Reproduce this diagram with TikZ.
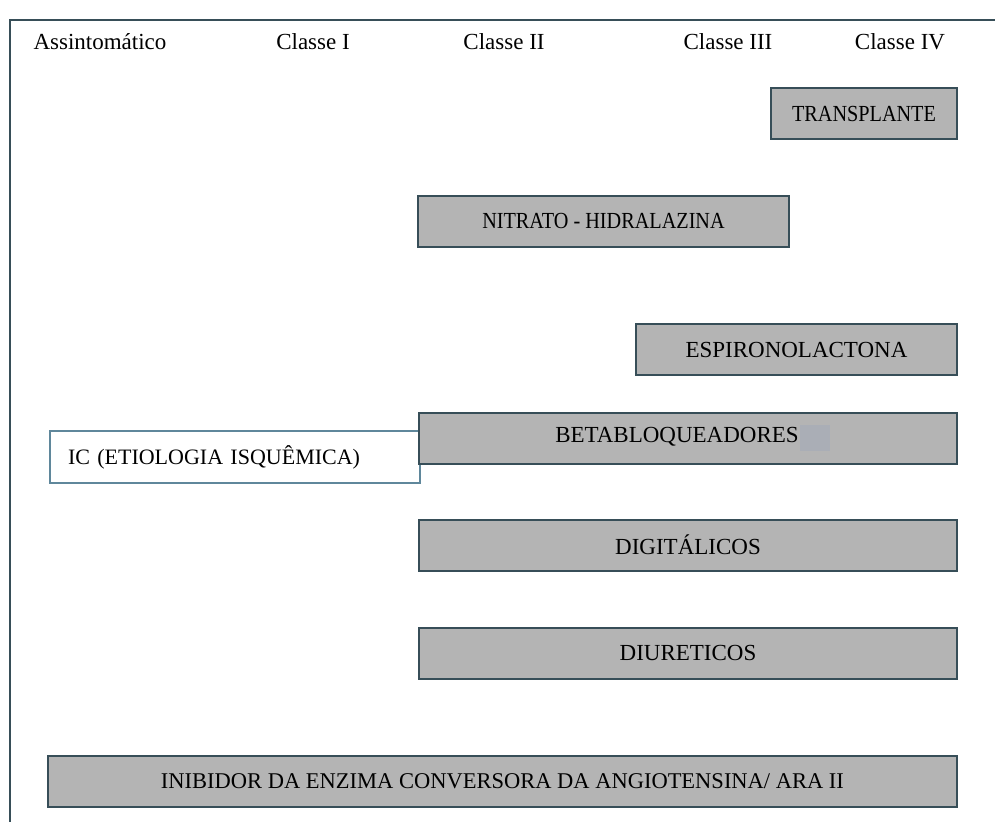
\documentclass[tikz,border=0pt]{standalone}
\usepackage{fontspec}
\setmainfont{Liberation Serif}
\usepackage{tikz}
\usetikzlibrary{positioning}
\definecolor{framegray}{RGB}{55,78,88}
\definecolor{boxfill}{RGB}{180,180,180}
\definecolor{patchfill}{RGB}{170,174,182}
\definecolor{icline}{RGB}{95,135,155}
\newcommand{\squeezed}[1]{\scalebox{0.88}[1]{#1}}
\tikzset{
    drugbox/.style={draw=framegray, fill=boxfill, line width=2pt, minimum height=51pt, inner sep=0pt, font=\fontsize{23}{26}\selectfont},
    classlabel/.style={font=\fontsize{23}{26}\selectfont}
}

\begin{document}
\begin{tikzpicture}[x=1pt,y=-1pt]
\useasboundingbox (0,0) rectangle (995,822);
\draw[framegray, line width=2.5pt] (995,20) -- (10,20) -- (10,822);
\foreach \x/\p/\labeltext in {100/assint/{Assintomático}, 313/classeI/{Classe I}, 504/classeII/{Classe II}, 728/classeIII/{Classe III}, 900/classeIV/{Classe IV}}{
    \node[classlabel] (\p) at (\x,42) {\labeltext};
}
\node[drugbox, minimum width=186] (transplante) at (864,113.5) {\squeezed{TRANSPLANTE}};
\node[drugbox, minimum width=371] (nitrato) at (603.5,221) {\squeezed{NITRATO - HIDRALAZINA}};
\node[drugbox, minimum width=321] (espiro) at (796.5,349.5) {ESPIRONOLACTONA};
\node[draw=icline, fill=white, line width=1.2pt, minimum height=52pt, text width=334pt, inner xsep=18pt, align=left, font=\fontsize{22}{24}\selectfont] (ic) at (235,457) {IC (ETIOLOGIA ISQUÊMICA)};
\node[drugbox, minimum width=538] (beta) at (688,438.5) {};
\fill[patchfill] (800,425) rectangle (830,451);
\node[font=\fontsize{23}{26}\selectfont] (betatext) at (677,437) {BETABLOQUEADORES};
\node[drugbox, minimum width=538] (digitalicos) at (688,545) {DIGITÁLICOS};
\node[drugbox, minimum width=538] (diureticos) at (688,653) {DIURETICOS};
\node[drugbox, minimum width=909, font=\fontsize{22.5}{24}\selectfont] (ieca) at (502.5,781) {INIBIDOR DA ENZIMA CONVERSORA DA ANGIOTENSINA/ ARA II};
\end{tikzpicture}
\end{document}
